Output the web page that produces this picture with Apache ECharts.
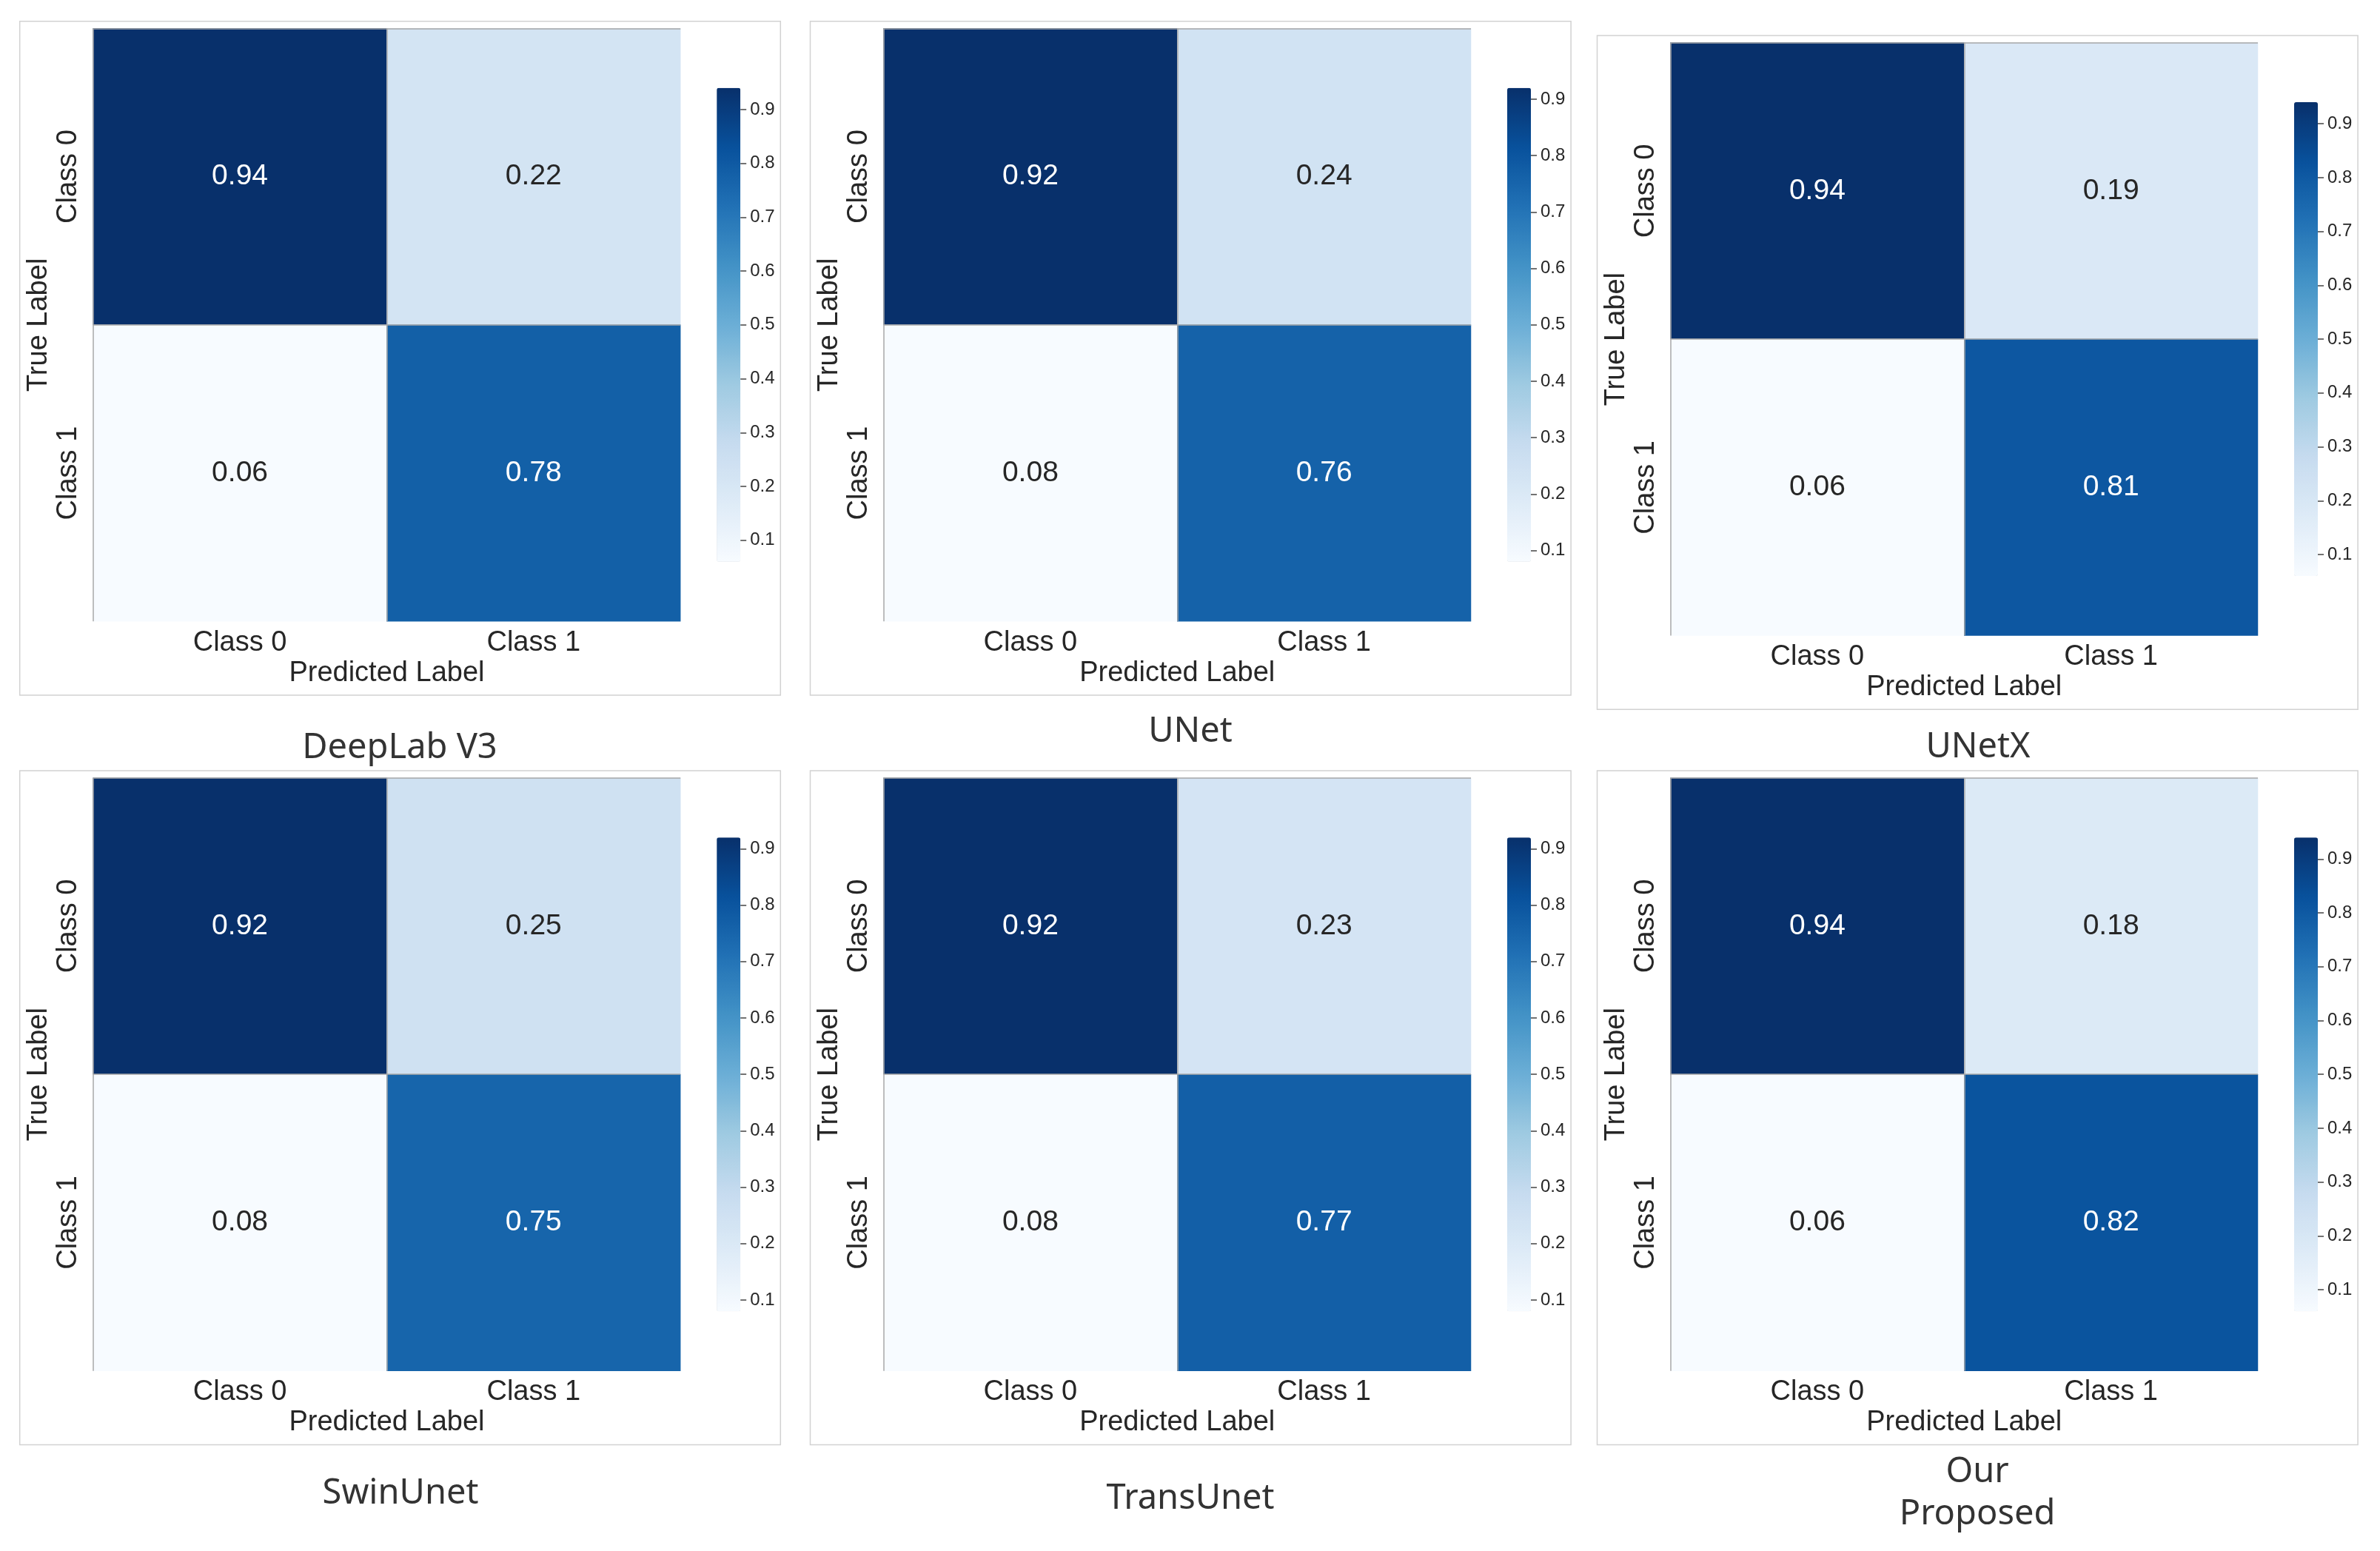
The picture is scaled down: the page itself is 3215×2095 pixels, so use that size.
<!DOCTYPE html>
<html>
<head>
<meta charset="utf-8">
<script src="https://cdn.jsdelivr.net/npm/echarts@6/dist/echarts.min.js"></script>
<style>
html,body{margin:0;padding:0;background:#fff;}
#chart{width:3215px;height:2095px;}
</style>
</head>
<body>
<div id="chart"></div>
<script>
// ---------------- data ----------------
const categories = ['Class 0', 'Class 1'];
const modelNames = ['DeepLab V3', 'UNet', 'UNetX', 'SwinUnet', 'TransUnet', 'Our\nProposed'];
const deeplabV3 = [[0.94, 0.22], [0.06, 0.78]];
const unet      = [[0.92, 0.24], [0.08, 0.76]];
const unetx     = [[0.94, 0.19], [0.06, 0.81]];
const swinUnet  = [[0.92, 0.25], [0.08, 0.75]];
const transUnet = [[0.92, 0.23], [0.08, 0.77]];
const proposed  = [[0.94, 0.18], [0.06, 0.82]];
const matrices = [deeplabV3, unet, unetx, swinUnet, transUnet, proposed];
const colorbarTicks = [0.1, 0.2, 0.3, 0.4, 0.5, 0.6, 0.7, 0.8, 0.9];

// ---------------- layout / style ----------------
const blues = ['#f7fbff', '#deebf7', '#c6dbef', '#9ecae1', '#6baed6', '#4292c6', '#2171b5', '#08519c', '#08306b'];
const hmLeft = [125.7, 1193.5, 2256.5, 125.7, 1193.5, 2256.5];
const hmTop  = [38.3, 38.3, 57.6, 1050.7, 1050.7, 1050.7];
const HM_W = 793.5, HM_H = 801;
const CB_DX = 49, CB_DY = 80.5, CB_W = 32, CB_H = 640;
const titleX = [540, 1608, 2672, 541, 1608, 2671];
const titleTop = [982, 960, 981, 1989, 1996, 1960];
const ARIAL = "'Liberation Sans', Arial, sans-serif";
const TXT = '#262626';

const grid = [], xAxis = [], yAxis = [], series = [], visualMap = [], title = [], graphic = [];

matrices.forEach((m, i) => {
  const flatVals = m.flat();
  const vmin = Math.min(...flatVals), vmax = Math.max(...flatVals);
  const data = [];
  m.forEach((row, r) => row.forEach((v, c) => {
    const t = (v - vmin) / (vmax - vmin);
    data.push({ value: [c, r, v], label: { color: t > 0.5 ? '#ffffff' : TXT } });
  }));

  // heatmap grid
  grid.push({ left: hmLeft[i], top: hmTop[i], width: HM_W, height: HM_H });
  xAxis.push({
    type: 'category', gridIndex: 2 * i, data: categories, position: 'bottom', z: 5,
    axisLine: { show: false }, axisTick: { show: false },
    axisLabel: { fontSize: 38, color: TXT, fontFamily: ARIAL, margin: 10 },
    splitLine: { show: true, showMinLine: true, showMaxLine: false, lineStyle: { color: '#a8a8a8', width: 1.5 } },
    name: 'Predicted Label', nameLocation: 'middle', nameGap: 51,
    nameTextStyle: { fontSize: 38, color: TXT, fontFamily: ARIAL }
  });
  yAxis.push({
    type: 'category', gridIndex: 2 * i, data: categories, inverse: true, z: 5,
    axisLine: { show: false }, axisTick: { show: false },
    axisLabel: { fontSize: 38, color: TXT, fontFamily: ARIAL, rotate: 90, margin: 14 },
    splitLine: { show: true, showMinLine: true, showMaxLine: false, lineStyle: { color: '#a8a8a8', width: 1.5 } },
    name: 'True Label', nameLocation: 'middle', nameGap: 54,
    nameTextStyle: { fontSize: 38, color: TXT, fontFamily: ARIAL }
  });

  // colorbar axis grid
  const cbLeft = hmLeft[i] + HM_W + CB_DX, cbTop = hmTop[i] + CB_DY;
  grid.push({ left: cbLeft, top: cbTop, width: CB_W, height: CB_H });
  xAxis.push({ type: 'category', gridIndex: 2 * i + 1, data: [''], show: false });
  yAxis.push({
    type: 'value', gridIndex: 2 * i + 1, min: vmin, max: vmax, position: 'right',
    axisLine: { show: false },
    axisTick: { show: true, length: 8, customValues: colorbarTicks, lineStyle: { color: '#444', width: 1.5 } },
    axisLabel: { show: true, customValues: colorbarTicks, fontSize: 24, color: TXT, fontFamily: ARIAL, margin: 13,
                 formatter: v => Number(v).toFixed(1) },
    splitLine: { show: false }
  });

  series.push({
    type: 'heatmap', xAxisIndex: 2 * i, yAxisIndex: 2 * i, data: data,
    label: { show: true, fontSize: 39, fontFamily: ARIAL },
    itemStyle: { borderWidth: 0 },
    emphasis: { disabled: true }
  });

  visualMap.push({
    type: 'continuous', seriesIndex: i, min: vmin, max: vmax, dimension: 2,
    left: cbLeft, top: cbTop, itemWidth: CB_W, itemHeight: CB_H,
    calculable: false, padding: 0, text: null, hoverLink: false,
    inRange: { color: blues }
  });

  title.push({
    text: modelNames[i], left: titleX[i], top: titleTop[i], textAlign: 'center', padding: 0,
    textStyle: { fontSize: 47, fontWeight: 'normal', color: '#333333', fontFamily: "'Noto Sans', sans-serif", lineHeight: 57 }
  });

  graphic.push({
    type: 'rect', silent: true,
    shape: { x: hmLeft[i] - 99, y: hmTop[i] - 9.6, width: 1027.6, height: 910.3 },
    style: { fill: 'none', stroke: '#d2d2d2', lineWidth: 1.5 }
  });
});

const chart = echarts.init(document.getElementById('chart'), null, { renderer: 'canvas' });
chart.setOption({
  backgroundColor: '#ffffff',
  animation: false,
  title, grid, xAxis, yAxis, series, visualMap, graphic
});
</script>
</body>
</html>
